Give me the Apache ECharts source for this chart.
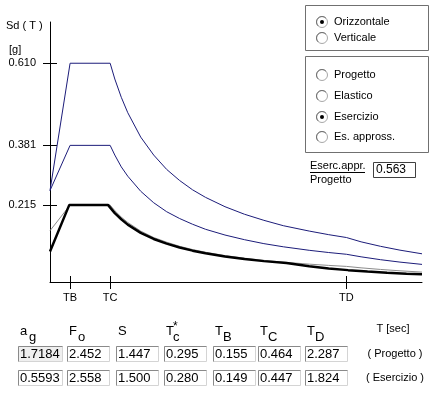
<!DOCTYPE html>
<html>
<head>
<meta charset="utf-8">
<script src="https://cdn.jsdelivr.net/npm/echarts@6/dist/echarts.min.js"></script>
<style>
html,body{margin:0;padding:0;background:#fff;}
#c{width:439px;height:393px;}
</style>
</head>
<body>
<div id="c"></div>
<script>
// ---- data ----
const T_prog = [0, 0.155, 0.464, 0.5, 0.55, 0.6, 0.7, 0.8, 0.9, 1.0, 1.1, 1.2, 1.35, 1.5, 1.65, 1.8, 2.0, 2.15, 2.287, 2.4, 2.55, 2.7, 2.87];
const Sd_elastico = [0.255, 0.610, 0.610, 0.566, 0.515, 0.472, 0.404, 0.354, 0.314, 0.283, 0.257, 0.236, 0.210, 0.189, 0.172, 0.157, 0.142, 0.132, 0.124, 0.112, 0.0995, 0.0888, 0.0786];
const Sd_progetto = [0.255, 0.381, 0.381, 0.354, 0.321, 0.295, 0.253, 0.221, 0.196, 0.177, 0.161, 0.147, 0.131, 0.118, 0.107, 0.0982, 0.0884, 0.0822, 0.0773, 0.0702, 0.0622, 0.0555, 0.0491];
const Sd_approx = [0.143, 0.2145, 0.2145, 0.199, 0.181, 0.166, 0.142, 0.124, 0.111, 0.0995, 0.0905, 0.0829, 0.0737, 0.0664, 0.0603, 0.0553, 0.0498, 0.0463, 0.0435, 0.0395, 0.0350, 0.0312, 0.0276];
const T_eser = [0, 0.149, 0.447, 0.5, 0.55, 0.6, 0.7, 0.8, 0.9, 1.0, 1.1, 1.2, 1.35, 1.5, 1.65, 1.824, 2.0, 2.15, 2.3, 2.45, 2.6, 2.75, 2.87];
const Sd_esercizio = [0.085, 0.215, 0.215, 0.192, 0.175, 0.160, 0.137, 0.120, 0.107, 0.0961, 0.0874, 0.0801, 0.0712, 0.0641, 0.0582, 0.0527, 0.0438, 0.0379, 0.0331, 0.0292, 0.0259, 0.0232, 0.0213];

const yTicks = [0.215, 0.381, 0.610];
const xTicks = [0.155, 0.464, 2.287];
const xTickLabels = ['TB', 'TC', 'TD'];
const xMax = 2.87;
const yMax = 0.725;

const paramValsProgetto = ['1.7184', '2.452', '1.447', '0.295', '0.155', '0.464', '2.287'];
const paramValsEsercizio = ['0.5593', '2.558', '1.500', '0.280', '0.149', '0.447', '1.824'];
const ratioValue = '0.563';

// ---- chart ----
const chart = echarts.init(document.getElementById('c'), null, {renderer: 'canvas'});
const FONT = 'Liberation Sans';
function zip(a, b) { return a.map((v, i) => [v, b[i]]); }

const colL = [19, 68, 117, 165, 214, 259, 306];
const graphics = [];
function txt(x, y, s, size, extra) {
  graphics.push(Object.assign({type: 'text', x: x, y: y, style: Object.assign({text: s, font: size + 'px "' + FONT + '"', fill: '#000', textVerticalAlign: 'middle'}, extra || {})}, {}));
}
function box(x, y, w, h, fill) {
  graphics.push({type: 'rect', shape: {x: x + 0.5, y: y + 0.5, width: w, height: h}, style: {fill: fill, stroke: '#d4d4d4', lineWidth: 1}});
  graphics.push({type: 'polyline', shape: {points: [[x + 0.5, y + h + 0.5], [x + 0.5, y + 0.5], [x + w + 0.5, y + 0.5]]}, style: {stroke: '#8a8a8a', lineWidth: 1, fill: null}});
}
function radio(cx, cy, on) {
  graphics.push({type: 'circle', shape: {cx: cx, cy: cy, r: 5.5}, style: {fill: '#fff', stroke: '#a8a8a8', lineWidth: 1}});
  graphics.push({type: 'arc', shape: {cx: cx, cy: cy, r: 5.5, startAngle: Math.PI * 0.75, endAngle: Math.PI * 1.75}, style: {stroke: '#707070', lineWidth: 1, fill: null}});
  if (on) graphics.push({type: 'circle', shape: {cx: cx, cy: cy, r: 2}, style: {fill: '#000'}});
}

// axis title
txt(6, 26, 'Sd ( T )', 11);
txt(9, 50, '[g]', 11);

// right panels
graphics.push({type: 'rect', shape: {x: 305.5, y: 5.5, width: 123, height: 45}, style: {fill: null, stroke: '#707070', lineWidth: 1}});
graphics.push({type: 'rect', shape: {x: 305.5, y: 56.5, width: 123, height: 96}, style: {fill: null, stroke: '#707070', lineWidth: 1}});
const radios1 = [['Orizzontale', 22, true], ['Verticale', 38, false]];
radios1.forEach(r => { radio(322, r[1], r[2]); txt(334, r[1], r[0], 11); });
const radios2 = [['Progetto', 75, false], ['Elastico', 96, false], ['Esercizio', 117, true], ['Es. appross.', 137, false]];
radios2.forEach(r => { radio(322, r[1], r[2]); txt(334, r[1], r[0], 11); });
txt(310, 166, 'Eserc.appr.', 11);
graphics.push({type: 'line', shape: {x1: 310, y1: 172.5, x2: 365, y2: 172.5}, style: {stroke: '#000', lineWidth: 1}});
txt(310, 180, 'Progetto', 11);
graphics.push({type: 'rect', shape: {x: 373.5, y: 162.5, width: 42, height: 15}, style: {fill: '#fff', stroke: '#404040', lineWidth: 1}});
txt(376, 170, ratioValue, 12);

// table headers
txt(colL[0] + 1, 331, 'a', 13); txt(colL[0] + 10, 337, 'g', 13);
txt(colL[1] + 1, 331, 'F', 13); txt(colL[1] + 10, 337, 'o', 13);
txt(colL[2] + 1, 331, 'S', 13);
txt(colL[3] + 1, 331, 'T', 13); txt(colL[3] + 8, 327, '*', 12); txt(colL[3] + 8, 337, 'c', 13);
txt(colL[4] + 1, 331, 'T', 13); txt(colL[4] + 9, 337, 'B', 13);
txt(colL[5] + 1, 331, 'T', 13); txt(colL[5] + 9, 337, 'C', 13);
txt(colL[6] + 1, 331, 'T', 13); txt(colL[6] + 9, 337, 'D', 13);
txt(393, 329, 'T [sec]', 11, {textAlign: 'center'});
txt(395, 354, '( Progetto )', 11, {textAlign: 'center'});
txt(395, 378, '( Esercizio )', 11, {textAlign: 'center'});
paramValsProgetto.forEach((v, i) => {
  box(colL[i] - 1, 346, i === 0 ? 44 : 42, 15, i === 0 ? '#efefef' : '#fff');
  txt(colL[i] + 1, 354, v, 13);
});
paramValsEsercizio.forEach((v, i) => {
  box(colL[i] - 1, 370, i === 0 ? 44 : 42, 15, '#fff');
  txt(colL[i] + 1, 378, v, 13);
});

const axisBase = {type: 'value', min: 0, splitLine: {show: false}};
const option = {
  animation: false,
  backgroundColor: '#fff',
  grid: {left: 50, top: 22, width: 372, height: 260, containLabel: false, outerBoundsMode: 'none'},
  xAxis: [
    Object.assign({}, axisBase, {
      max: xMax, position: 'bottom',
      axisLine: {show: true, onZero: false, lineStyle: {color: '#000', width: 1}},
      axisTick: {show: true, inside: false, length: 7, customValues: xTicks, lineStyle: {color: '#000'}},
      axisLabel: {show: true, customValues: xTicks, margin: 10, color: '#000', fontFamily: FONT, fontSize: 11,
        formatter: v => { const i = xTicks.findIndex(t => Math.abs(t - v) < 1e-6); return i >= 0 ? xTickLabels[i] : ''; }}
    }),
    Object.assign({}, axisBase, {
      max: xMax, position: 'bottom',
      axisLine: {show: false, onZero: false},
      axisTick: {show: true, inside: true, length: 6, customValues: xTicks, lineStyle: {color: '#000'}},
      axisLabel: {show: false}
    })
  ],
  yAxis: [
    Object.assign({}, axisBase, {
      max: yMax, position: 'left',
      axisLine: {show: true, onZero: false, lineStyle: {color: '#000', width: 1}},
      axisTick: {show: true, inside: false, length: 7, customValues: yTicks, lineStyle: {color: '#000'}},
      axisLabel: {show: true, customValues: yTicks, margin: 14, color: '#000', fontFamily: FONT, fontSize: 11,
        formatter: v => v.toFixed(3)}
    }),
    Object.assign({}, axisBase, {
      max: yMax, position: 'left',
      axisLine: {show: false, onZero: false},
      axisTick: {show: true, inside: true, length: 7, customValues: yTicks, lineStyle: {color: '#000'}},
      axisLabel: {show: false}
    })
  ],
  series: [
    {type: 'line', name: 'Elastico', data: zip(T_prog, Sd_elastico), showSymbol: false, lineStyle: {color: '#1c1c7a', width: 1}},
    {type: 'line', name: 'Progetto', data: zip(T_prog, Sd_progetto), showSymbol: false, lineStyle: {color: '#1c1c7a', width: 1}},
    {type: 'line', name: 'Es. appross.', data: zip(T_prog, Sd_approx), showSymbol: false, lineStyle: {color: '#8c8c8c', width: 1}},
    {type: 'line', name: 'Esercizio', data: zip(T_eser, Sd_esercizio), showSymbol: false, lineStyle: {color: '#000', width: 2.5}}
  ],
  graphic: graphics
};
chart.setOption(option);
</script>
</body>
</html>
